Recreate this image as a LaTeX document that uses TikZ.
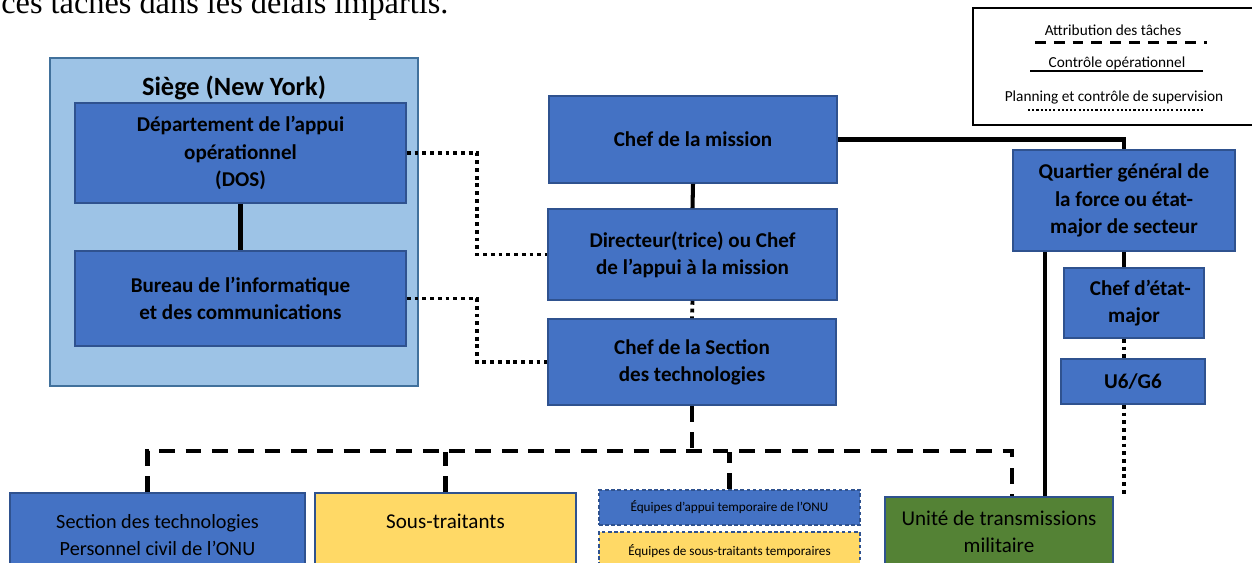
\documentclass[tikz,border=0pt]{standalone}
\usepackage{fontspec}
\setmainfont{Carlito}
\newfontfamily\bodyfont{Liberation Serif}
\usepackage{tikz}
\usetikzlibrary{calc}
\usetikzlibrary{positioning}

\definecolor{unblue}{HTML}{4472C4}
\definecolor{boxedge}{HTML}{2F528F}
\definecolor{hqblue}{HTML}{9DC3E6}
\definecolor{hqedge}{HTML}{41719C}
\definecolor{subyellow}{HTML}{FFD966}
\definecolor{milgreen}{HTML}{548235}

\tikzset{
	unit/.style={draw=boxedge, line width=1pt, fill=unblue, align=center, inner sep=2pt,
	             font=\fontsize{12}{15.5}\selectfont\bfseries},
	lowunit/.style={unit, font=\fontsize{12}{15.5}\selectfont},
	tempunit/.style={unit, dashed, dash pattern=on 2pt off 1.5pt, font=\fontsize{7.5}{9}\selectfont},
	control/.style={draw=black, line width=2.3pt},
	supervise/.style={draw=black, line width=2.2pt, dash pattern=on 2.2pt off 2.2pt},
	tasking/.style={draw=black, line width=2.3pt, dash pattern=on 9pt off 6pt},
	legendtext/.style={font=\fontsize{8.7}{10}\selectfont, inner sep=0pt}
}

\begin{document}
\begin{tikzpicture}[x=0.02cm, y=-0.02cm]
	\useasboundingbox (0,0) rectangle (1252,563);
	\clip (0,0) rectangle (1252,563);

	% text of the page above the chart
	\node[anchor=base west, inner sep=0pt, font=\bodyfont\fontsize{18.4}{20}\selectfont] (intro) at (1,14) {ces tâches dans les délais impartis.};

	% headquarters
	\node[draw=hqedge, line width=1pt, fill=hqblue, minimum width=7.36cm, minimum height=6.56cm] (siege) at (234,222) {};
	\node[font=\fontsize{15}{18}\selectfont\bfseries, inner sep=0pt] (siegetitle) at (234,88) {Siège (New York)};
	\node[unit, minimum width=6.62cm, minimum height=2cm] (dos) at (240.5,153) {Département de l’appui\\opérationnel\\(DOS)};
	\node[unit, minimum width=6.62cm, minimum height=1.9cm] (bic) at (240.5,298.5) {Bureau de l’informatique\\et des communications};

	% mission
	\node[unit, minimum width=5.76cm, minimum height=1.74cm] (mission) at (693,139.5) {Chef de la mission};
	\node[unit, minimum width=5.78cm, minimum height=1.82cm] (dir) at (692.5,254.5) {Directeur(trice) ou Chef\\de l’appui à la mission};
	\node[unit, minimum width=5.76cm, minimum height=1.72cm] (sect) at (692,362) {Chef de la Section\\des technologies};

	% force
	\node[unit, minimum width=4.44cm, minimum height=2.02cm] (qg) at (1124,200.5) {Quartier général de\\la force ou état-\\major de secteur};
	\node[unit, minimum width=2.8cm, minimum height=1.4cm] (cdem) at (1134,303) {\hspace*{0.6em}Chef d’état-\\major};
	\node[unit, minimum width=2.88cm, minimum height=0.9cm] (u6) at (1133,381.5) {U6/G6};

	% bottom row
	\node[lowunit, font=\fontsize{11.5}{15.5}\selectfont, minimum width=5.9cm, minimum height=1.68cm] (civ) at (157.5,535) {Section des technologies\\Personnel civil de l’ONU};
	\node[lowunit, fill=subyellow, minimum width=5.22cm, minimum height=1.68cm] (sous) at (445.5,535) {Sous-traitants\\\mbox{}};
	\node[tempunit, minimum width=5.22cm, minimum height=0.7cm] (appui) at (729.5,507.5) {Équipes d’appui temporaire de l’ONU};
	\node[tempunit, fill=subyellow, minimum width=5.22cm, minimum height=0.76cm] (soustemp) at (729.5,551) {Équipes de sous-traitants temporaires};
	\node[lowunit, fill=milgreen, minimum width=4.56cm, minimum height=1.4cm] (unite) at (999,532) {Unité de transmissions\\militaire};

	% legend
	\draw[black, line width=0.8pt] (973,8) rectangle (1262,125);
	\node[legendtext] (lgtask) at (1113,30) {Attribution des tâches};
	\node[legendtext] (lgctrl) at (1117,63) {Contrôle opérationnel};
	\node[legendtext] (lgplan) at (1114,98) {Planning et contrôle de supervision};
	\coordinate (lgtaskA) at (1035,43);
	\coordinate (lgtaskB) at (1207,43);
	\coordinate (lgctrlA) at (1030,71);
	\coordinate (lgctrlB) at (1203,71);
	\coordinate (lgplanA) at (1028,110);
	\coordinate (lgplanB) at (1205,110);
	\draw[black, line width=1.7pt, dash pattern=on 6.2pt off 4.5pt] (lgtaskA) -- (lgtaskB);
	\draw[black, line width=1.2pt] (lgctrlA) -- (lgctrlB);
	\draw[black, line width=1.3pt, dash pattern=on 1.2pt off 1.2pt] (lgplanA) -- (lgplanB);

	% operational control
	\draw[control] (dos.south) -- (bic.north);
	\draw[control] (mission.south) -- (dir.north);
	\draw[control] (mission.east) -| (qg.north);
	\coordinate (spine) at (qg.south);
	\draw[control] (qg.south) -- (spine |- cdem.north);
	\draw[control] ($(qg.south west)+(33,0)$) coordinate (qgfoot) -- (qgfoot |- unite.north);

	% planning and supervision
	\draw[supervise] (dos.east) -- ++(70,0) |- (dir.west);
	\draw[supervise] (bic.east) -- ++(70,0) |- (sect.west);
	\draw[supervise] (dir.south) -- (sect.north);
	\draw[supervise] (spine |- cdem.south) -- (spine |- u6.north);
	\draw[supervise] (spine |- u6.south) -- (spine |- unite.north);

	% tasking
	\coordinate (bus) at (0,452);
	\draw[tasking] (sect.south) -- (sect.south |- bus);
	\draw[tasking] ($(civ.north)+(-10,0)$) |- ($(unite.north)+(13,-45)$) -- ($(unite.north)+(13,0)$);
	\draw[tasking] (sous.north) -- (sous.north |- bus);
	\draw[tasking] (appui.north) -- (appui.north |- bus);
\end{tikzpicture}
\end{document}
